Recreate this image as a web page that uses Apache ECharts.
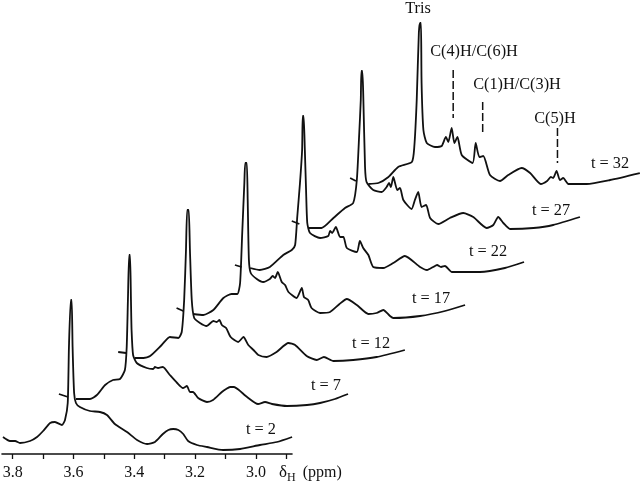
<!DOCTYPE html>
<html><head><meta charset="utf-8">
<style>html,body{margin:0;padding:0;background:#fff}#c{width:640px;height:483px}</style>
<script src="https://cdn.jsdelivr.net/npm/echarts@6/dist/echarts.min.js"></script>
</head><body><div id="c"></div>
<script>
// Each trace: [chemical shift as read on the axis (ppm), height above the axis]
const t2 = [[3.832,17],[3.809,13],[3.792,13],[3.776,11],[3.743,13],[3.720,17],[3.700,23],[3.677,31],[3.661,32],[3.638,29],[3.628,34],[3.619,51],[3.615,107],[3.609,154],[3.606,154],[3.603,107],[3.598,61],[3.592,51],[3.579,47],[3.546,43],[3.513,42],[3.490,39],[3.464,30],[3.424,22],[3.391,14],[3.358,10],[3.332,12],[3.306,20],[3.288,24],[3.272,25],[3.255,24],[3.239,20],[3.223,13],[3.194,9],[3.161,7],[3.108,4],[3.052,5],[2.987,9],[2.931,12],[2.881,17]];
const t7 = [[3.648,60],[3.618,57],[3.605,null],[3.592,55],[3.546,55],[3.523,59],[3.496,69],[3.470,74],[3.447,75],[3.431,84],[3.425,107],[3.421,154],[3.417,199],[3.414,199],[3.411,154],[3.409,124],[3.404,99],[3.392,91],[3.359,86],[3.338,85],[3.332,87],[3.322,86],[3.306,87],[3.283,79],[3.259,71],[3.240,66],[3.227,68],[3.217,62],[3.207,62],[3.190,56],[3.161,52],[3.141,54],[3.112,62],[3.098,65],[3.085,67],[3.072,67],[3.056,64],[3.029,57],[2.993,50],[2.970,52],[2.947,50],[2.898,48],[2.832,49],[2.789,51],[2.740,55],[2.697,60]];
const t12 = [[3.453,102],[3.427,101],[3.414,null],[3.398,96],[3.370,96],[3.348,98],[3.310,109],[3.283,117],[3.255,116],[3.244,122],[3.236,154],[3.230,204],[3.226,244],[3.221,244],[3.217,204],[3.211,154],[3.203,136],[3.184,131],[3.162,128],[3.140,133],[3.129,132],[3.120,134],[3.112,129],[3.098,126],[3.083,117],[3.058,112],[3.041,117],[3.025,109],[3.008,104],[2.992,99],[2.965,97],[2.932,102],[2.893,111],[2.871,109],[2.833,98],[2.800,94],[2.776,97],[2.745,93],[2.680,94],[2.603,97],[2.510,104]];
const t17 = [[3.261,146],[3.239,143],[3.227,null],[3.206,140],[3.173,139],[3.140,144],[3.107,156],[3.080,160],[3.061,160],[3.052,171],[3.045,221],[3.038,271],[3.035,291],[3.030,291],[3.027,254],[3.023,194],[3.017,181],[2.997,175],[2.976,172],[2.954,175],[2.945,178],[2.937,176],[2.928,182],[2.915,172],[2.904,169],[2.893,162],[2.866,156],[2.849,166],[2.842,157],[2.828,154],[2.817,146],[2.789,141],[2.756,142],[2.725,150],[2.701,155],[2.668,149],[2.630,140],[2.603,141],[2.581,144],[2.559,138],[2.548,136],[2.460,138],[2.378,143],[2.312,149]];
const t22 = [[3.069,189],[3.047,187],[3.036,null],[3.019,186],[2.987,184],[2.954,187],[2.910,199],[2.882,204],[2.871,209],[2.864,237],[2.855,271],[2.848,304],[2.846,338],[2.843,338],[2.839,304],[2.835,264],[2.831,231],[2.822,221],[2.789,216],[2.762,218],[2.756,223],[2.749,221],[2.737,227],[2.723,217],[2.712,217],[2.701,206],[2.668,202],[2.658,213],[2.647,206],[2.630,199],[2.614,187],[2.581,186],[2.548,191],[2.510,198],[2.460,187],[2.437,184],[2.417,187],[2.404,189],[2.391,187],[2.378,188],[2.355,182],[2.263,182],[2.181,186],[2.118,192]];
const t27 = [[2.882,233],[2.857,230],[2.845,null],[2.828,226],[2.784,226],[2.745,236],[2.707,246],[2.680,251],[2.668,274],[2.660,321],[2.655,354],[2.653,383],[2.650,383],[2.647,361],[2.641,287],[2.636,272],[2.614,264],[2.586,262],[2.570,267],[2.562,271],[2.556,267],[2.548,277],[2.535,264],[2.526,266],[2.515,254],[2.488,245],[2.477,254],[2.466,262],[2.455,247],[2.440,249],[2.427,236],[2.400,230],[2.362,236],[2.318,241],[2.285,237],[2.241,226],[2.219,229],[2.203,237],[2.186,231],[2.164,225],[2.087,226],[2.022,229],[1.934,237]];
const t32 = [[2.690,276],[2.671,273],[2.651,null],[2.630,270],[2.597,271],[2.564,277],[2.532,287],[2.487,292],[2.479,307],[2.471,354],[2.464,421],[2.460,431],[2.457,431],[2.455,371],[2.449,324],[2.438,311],[2.411,307],[2.389,308],[2.375,317],[2.367,312],[2.356,326],[2.347,311],[2.337,317],[2.323,299],[2.287,291],[2.277,311],[2.265,297],[2.252,298],[2.230,279],[2.197,273],[2.170,279],[2.126,286],[2.098,281],[2.063,270],[2.042,273],[2.030,277],[2.022,276],[2.011,283],[2.000,274],[1.989,276],[1.972,270],[1.912,270],[1.835,274],[1.737,281]];
const c46Mark = [[2.351,384],[2.351,336]];
const c13Mark = [[2.254,352],[2.254,319]];
const c5Mark = [[2.008,326],[2.008,291]];
const traceNames = ['t = 2','t = 7','t = 12','t = 17','t = 22','t = 27','t = 32'];
const traces = [t2,t7,t12,t17,t22,t27,t32];
const tickValues = [3.8,3.7,3.6,3.5,3.4,3.3,3.2,3.1,3.0,2.9];
const labelValues = [3.8,3.6,3.4,3.2,3.0];
const annotations = [
 ['Tris',418,9],['C(4)H/C(6)H',474,52],['C(1)H/C(3)H',517,85],['C(5)H',555,119],
 ['t = 32',610,164],['t = 27',551,211],['t = 22',488,252],['t = 17',431,299],['t = 12',371,344],['t = 7',326,386],['t = 2',261,430]
];
const ink = '#111', serif = '"Liberation Serif","Times New Roman",serif';
const onPlot = {xAxisIndex:1,yAxisIndex:1,symbol:'none',showSymbol:false,silent:true,type:'line',clip:false};
const series = traces.map((d,i)=>Object.assign({},onPlot,{name:traceNames[i],data:d,smooth:0.2,connectNulls:false,lineStyle:{color:ink,width:1.8},z:2+i}));
[c46Mark,c13Mark,c5Mark].forEach(d=>series.push(Object.assign({},onPlot,{data:d,lineStyle:{color:ink,width:1.5,type:[8,3]}})));
const chart = echarts.init(document.getElementById('c'),null,{renderer:'canvas'});
chart.setOption({
 animation:false,backgroundColor:'#fff',
 grid:[{left:2,top:0,width:290,height:454,outerBoundsMode:'none'},{left:0,top:0,width:640,height:454,outerBoundsMode:'none'}],
 xAxis:[{gridIndex:0,type:'value',inverse:true,min:2.8813,max:3.8352,splitLine:{show:false},
  axisLine:{show:true,onZero:false,lineStyle:{color:ink,width:1.6}},
  axisTick:{show:true,length:5,customValues:tickValues,lineStyle:{color:ink,width:1.3}},
  axisLabel:{show:true,customValues:labelValues,margin:11,color:ink,fontFamily:serif,fontSize:16,formatter:v=>v.toFixed(1)}},
  {gridIndex:1,type:'value',inverse:true,min:1.7365,max:3.8418,show:false}],
 yAxis:[{gridIndex:0,type:'value',min:0,max:454,show:false},{gridIndex:1,type:'value',min:0,max:454,show:false}],
 series,
 graphic:{elements:annotations.map(a=>({type:'text',x:a[1],y:a[2],style:{text:a[0],fill:ink,font:'16.3px '+serif,textAlign:'center',textVerticalAlign:'middle'},silent:true})).concat([
  {type:'text',x:279,y:473,silent:true,style:{rich:{d:{font:'17px '+serif,fill:ink},s:{font:'12px '+serif,fill:ink,verticalAlign:'bottom',padding:[10,0,0,0]},p:{font:'16px '+serif,fill:ink,padding:[0,0,0,7]}},text:'{d|δ}{s|H}{p|(ppm)}',textVerticalAlign:'middle'}}
 ])}
});
</script></body></html>
